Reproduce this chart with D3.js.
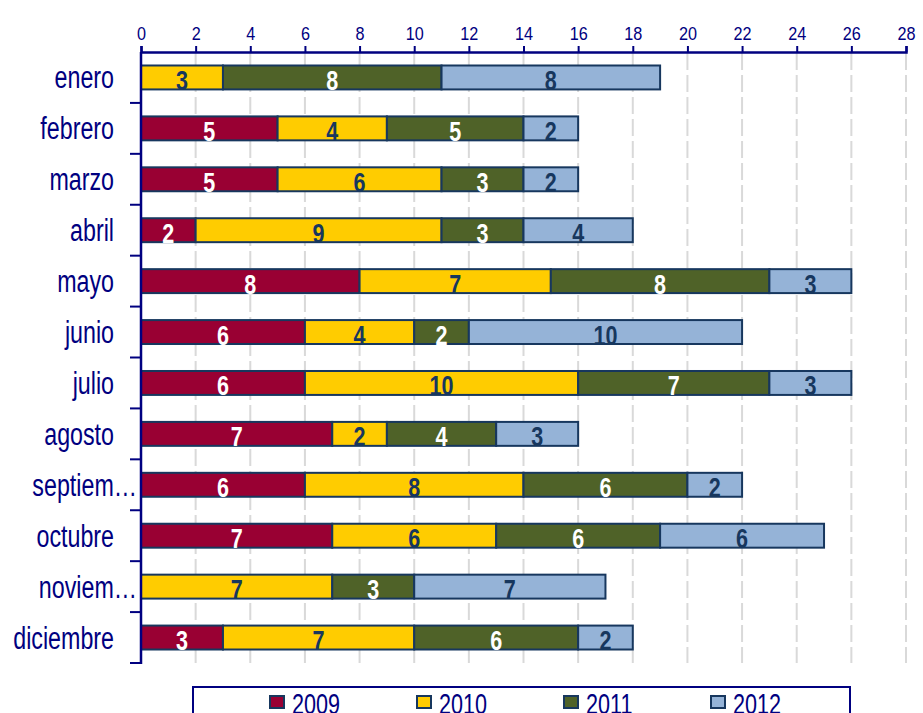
<!DOCTYPE html>
<html>
<head>
<meta charset="utf-8">
<script src="https://cdn.jsdelivr.net/npm/d3@7"></script>
<style>
  body { margin: 0; background: #fff; }
  text { font-family: "Liberation Sans", Arial, sans-serif; }
</style>
</head>
<body>
<svg id="chart" width="923" height="713"></svg>
<script>
// months and the count for each year
const months = ["enero", "febrero", "marzo", "abril", "mayo", "junio", "julio",
                "agosto", "septiembre", "octubre", "noviembre", "diciembre"];
const monthLabels = ["enero", "febrero", "marzo", "abril", "mayo", "junio", "julio",
                     "agosto", "septiem\u2026", "octubre", "noviem\u2026", "diciembre"];
const years = ["2009", "2010", "2011", "2012"];
const v2009 = [0, 5, 5, 2, 8, 6, 6, 7, 6, 7, 0, 3];
const v2010 = [3, 4, 6, 9, 7, 4, 10, 2, 8, 6, 7, 7];
const v2011 = [8, 5, 3, 3, 8, 2, 7, 4, 6, 6, 3, 6];
const v2012 = [8, 2, 2, 4, 3, 10, 3, 3, 2, 6, 7, 2];
const xTicks = d3.range(0, 29, 2);

const colrs = ["#990033", "#ffcc00", "#4f6228", "#95b3d7"];
const labelColrs = ["#ffffff", "#17375e", "#ffffff", "#17375e"];
const navy = "#000080";

const rows = months.map((m, i) => ({
  month: m, "2009": v2009[i], "2010": v2010[i], "2011": v2011[i], "2012": v2012[i]
}));

// the original text is squeezed sideways, so texts get a scaleX
function squeeze(sel, xf, yf, sx) {
  sel.attr("transform", (d, i) => `translate(${xf(d, i)},${yf(d, i)}) scale(${sx},1)`);
}

const svg = d3.select("#chart");
const x = d3.scaleLinear().domain([0, 28]).range([141, 906]);
const y = d3.scaleBand().domain(months).range([52, 663])
            .paddingInner(0.53).paddingOuter(0.265);

// dashed grid
svg.append("g").selectAll("line").data(xTicks.filter(d => d > 0)).join("line")
   .attr("x1", d => x(d)).attr("x2", d => x(d))
   .attr("y1", 53).attr("y2", 663)
   .attr("stroke", "#d9d9d9").attr("stroke-width", 2)
   .attr("stroke-dasharray", "17,5");

// stacked bars
const series = d3.stack().keys(years)(rows);
const layers = svg.append("g").selectAll("g").data(series).join("g")
   .attr("fill", (d, i) => colrs[i]);

layers.selectAll("rect").data(d => d.filter(s => s[1] - s[0] > 0)).join("rect")
   .attr("x", d => x(d[0]))
   .attr("y", d => y(d.data.month))
   .attr("width", d => x(d[1]) - x(d[0]))
   .attr("height", y.bandwidth())
   .attr("stroke", "#17375e").attr("stroke-width", 2);

layers.each(function (s, i) {
  d3.select(this).selectAll("text").data(s.filter(d => d[1] - d[0] > 0)).join("text")
     .call(squeeze, d => (x(d[0]) + x(d[1])) / 2,
           d => y(d.data.month) + y.bandwidth() / 2 + 12.5, 0.77)
     .attr("text-anchor", "middle")
     .attr("font-size", 28).attr("font-weight", "bold")
     .attr("fill", labelColrs[i])
     .text(d => d[1] - d[0]);
});

// top x axis
const xAxis = svg.append("g").attr("transform", "translate(0,52)")
   .call(d3.axisTop(x).tickValues(xTicks).tickSize(6).tickPadding(6));
xAxis.select(".domain").attr("stroke", navy).attr("stroke-width", 2.5);
xAxis.selectAll(".tick line").attr("stroke", navy).attr("stroke-width", 2);
xAxis.selectAll(".tick text").attr("fill", navy).attr("font-size", 18)
   .attr("transform", "scale(0.9,1)")
   .style("font-family", "'Liberation Sans', Arial, sans-serif");

// left axis: line, ticks between the months, labels
svg.append("line").attr("x1", 141).attr("x2", 141).attr("y1", 52).attr("y2", 664)
   .attr("stroke", navy).attr("stroke-width", 2.5);
const bounds = months.map(m => y(m) - y.step() * y.paddingInner() / 2).slice(1);
bounds.push(663);
svg.append("g").selectAll("line").data(bounds).join("line")
   .attr("x1", 130).attr("x2", 141).attr("y1", d => d).attr("y2", d => d)
   .attr("stroke", navy).attr("stroke-width", 2);
// truncated labels run on up to the axis
svg.append("g").selectAll("text").data(months).join("text")
   .call(squeeze, (d, i) => monthLabels[i].endsWith("\u2026") ? 137 : 114,
         d => y(d) + y.bandwidth() / 2 + 11, 0.75)
   .attr("text-anchor", "end").attr("font-size", 31).attr("fill", navy)
   .text((d, i) => monthLabels[i]);

// legend
svg.append("rect").attr("x", 193).attr("y", 687).attr("width", 657).attr("height", 40)
   .attr("fill", "#fff").attr("stroke", navy).attr("stroke-width", 2);
const legend = svg.append("g").selectAll("g").data(years).join("g")
   .attr("transform", (d, i) => `translate(${270 + i * 147},696)`);
legend.append("rect").attr("width", 14).attr("height", 12)
   .attr("fill", (d, i) => colrs[i]).attr("stroke", "#17375e").attr("stroke-width", 2);
legend.append("text").call(squeeze, () => 22, () => 18, 0.72)
   .attr("font-size", 30).attr("fill", navy).text(d => d);
</script>
</body>
</html>
